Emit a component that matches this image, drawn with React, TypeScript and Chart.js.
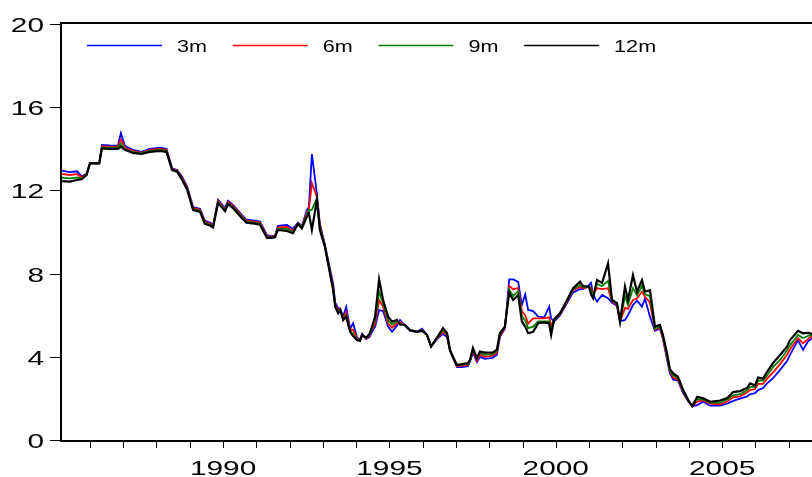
import React, { useEffect, useRef } from "react";
import { Chart, registerables } from "chart.js";

Chart.register(...registerables);

const DATES = [
  1985.13, 1985.40, 1985.61, 1985.75, 1985.90, 1986.00, 1986.28, 1986.36, 1986.60, 1986.84,
  1986.93, 1987.05, 1987.29, 1987.55, 1987.80, 1988.10, 1988.30, 1988.47, 1988.62, 1988.77,
  1988.92, 1989.10, 1989.31, 1989.45, 1989.62, 1989.70, 1989.85, 1990.06, 1990.15, 1990.30,
  1990.55, 1990.70, 1990.95, 1991.11, 1991.32, 1991.45, 1991.56, 1991.65, 1991.92, 1992.10,
  1992.25, 1992.37, 1992.52, 1992.58, 1992.67, 1992.82, 1992.91, 1993.06, 1993.31, 1993.37,
  1993.46, 1993.52, 1993.61, 1993.70, 1993.82, 1993.91, 1994.03, 1994.12, 1994.18, 1994.30,
  1994.40, 1994.48, 1994.57, 1994.69, 1994.81, 1994.96, 1995.08, 1995.23, 1995.32, 1995.47,
  1995.62, 1995.83, 1995.98, 1996.13, 1996.25, 1996.43, 1996.61, 1996.73, 1996.82, 1996.91,
  1997.03, 1997.18, 1997.36, 1997.42, 1997.51, 1997.63, 1997.72, 1997.87, 1998.10, 1998.23,
  1998.32, 1998.47, 1998.60, 1998.72, 1998.87, 1998.98, 1999.08, 1999.17, 1999.32, 1999.47,
  1999.65, 1999.80, 1999.86, 1999.95, 2000.13, 2000.34, 2000.52, 2000.73, 2000.82, 2001.00,
  2001.06, 2001.12, 2001.24, 2001.39, 2001.57, 2001.69, 2001.84, 2001.93, 2002.08, 2002.17,
  2002.32, 2002.44, 2002.59, 2002.68, 2002.83, 2002.98, 2003.13, 2003.22, 2003.34, 2003.43,
  2003.53, 2003.67, 2003.83, 2003.98, 2004.10, 2004.25, 2004.43, 2004.64, 2004.94, 2005.15,
  2005.33, 2005.54, 2005.75, 2005.84, 2005.99, 2006.08, 2006.23, 2006.35, 2006.53, 2006.74,
  2006.95, 2007.04, 2007.28, 2007.43, 2007.58, 2007.70,
];

const R3M = [
  12.95, 12.88, 12.92, 12.68, 12.8, 13.32, 13.32, 14.18, 14.16, 14.15,
  14.75, 14.15, 13.95, 13.85, 14.0, 14.05, 14.0, 13.06, 12.98, 12.66,
  12.2, 11.2, 11.12, 10.55, 10.45, 10.3, 11.55, 11.15, 11.5, 11.3,
  10.85, 10.6, 10.55, 10.5, 9.85, 9.8, 9.82, 10.3, 10.34, 10.15,
  10.45, 10.3, 11.06, 11.2, 13.75, 11.83, 10.4, 9.4, 7.5, 6.6,
  6.35, 6.3, 5.95, 6.4, 5.35, 5.62, 4.9, 4.85, 5.1, 4.85,
  4.95, 5.2, 5.45, 6.25, 6.2, 5.45, 5.2, 5.5, 5.77, 5.5,
  5.25, 5.2, 5.35, 5.05, 4.5, 4.85, 5.1, 4.95, 4.3, 3.95,
  3.5, 3.5, 3.55, 3.75, 4.2, 3.75, 4.0, 3.9, 3.95, 4.1,
  4.95, 5.35, 7.72, 7.72, 7.6, 6.5, 7.0, 6.25, 6.2, 5.93,
  5.9, 6.41, 5.85, 5.7, 6.0, 6.6, 7.1, 7.25, 7.25, 7.45,
  7.55, 7.0, 6.65, 6.97, 6.82, 6.6, 6.45, 5.7, 5.77, 6.0,
  6.49, 6.7, 6.41, 6.8, 5.93, 5.25, 5.35, 4.85, 3.9, 3.2,
  2.9, 2.85, 2.24, 1.85, 1.62, 1.68, 1.84, 1.65, 1.65, 1.75,
  1.88, 1.99, 2.1, 2.2, 2.25, 2.4, 2.5, 2.72, 2.97, 3.37,
  3.8, 4.09, 4.8, 4.33, 4.73, 4.9,
];

const R6M = [
  12.79, 12.74, 12.78, 12.64, 12.78, 13.3, 13.3, 14.12, 14.1, 14.1,
  14.45, 14.05, 13.9, 13.8, 13.95, 14.0, 13.95, 13.03, 12.95, 12.6,
  12.15, 11.15, 11.07, 10.5, 10.4, 10.28, 11.5, 11.1, 11.45, 11.25,
  10.8, 10.55, 10.5, 10.45, 9.8, 9.78, 9.8, 10.22, 10.25, 10.05,
  10.42, 10.25, 10.95, 11.1, 12.35, 11.7, 10.3, 9.35, 7.35, 6.5,
  6.25, 6.3, 5.88, 6.15, 5.3, 5.3, 4.85, 4.82, 5.05, 4.88,
  5.0, 5.3, 5.6, 6.73, 6.4, 5.6, 5.4, 5.6, 5.68, 5.5,
  5.27, 5.2, 5.3, 5.05, 4.5, 4.88, 5.2, 5.05, 4.3, 3.97,
  3.55, 3.58, 3.6, 3.8, 4.3, 3.82, 4.1, 4.0, 4.05, 4.2,
  5.0, 5.4, 7.4, 7.25, 7.3, 6.2, 6.0, 5.6, 5.85, 5.85,
  5.85, 5.9, 5.5, 5.75, 6.05, 6.65, 7.2, 7.35, 7.3, 7.35,
  7.3, 7.05, 7.3, 7.25, 7.3, 6.65, 6.5, 5.7, 6.35, 6.3,
  6.73, 6.8, 7.13, 6.9, 6.6, 5.3, 5.4, 4.9, 4.0, 3.3,
  3.0, 2.9, 2.3, 1.88, 1.62, 1.85, 1.9, 1.75, 1.72, 1.85,
  2.05, 2.1, 2.3, 2.4, 2.45, 2.7, 2.7, 2.95, 3.25, 3.65,
  4.1, 4.35, 4.9, 4.65, 4.85, 5.0,
];

const R9M = [
  12.61, 12.58, 12.62, 12.58, 12.76, 13.3, 13.3, 14.07, 14.05, 14.05,
  14.26, 13.98, 13.85, 13.78, 13.9, 13.95, 13.9, 13.0, 12.92, 12.55,
  12.1, 11.1, 11.02, 10.45, 10.35, 10.25, 11.45, 11.05, 11.4, 11.2,
  10.75, 10.5, 10.45, 10.4, 9.76, 9.75, 9.77, 10.15, 10.15, 10.0,
  10.4, 10.22, 10.85, 11.06, 11.06, 11.62, 10.2, 9.32, 7.25, 6.45,
  6.15, 6.27, 5.82, 6.0, 5.25, 5.1, 4.82, 4.79, 5.05, 4.9,
  5.05, 5.38, 5.77, 7.13, 6.55, 5.75, 5.55, 5.7, 5.6, 5.52,
  5.28, 5.2, 5.28, 5.05, 4.5, 4.9, 5.3, 5.1, 4.32, 3.99,
  3.58, 3.62, 3.65, 3.83, 4.38, 3.9, 4.2, 4.1, 4.12, 4.28,
  5.08, 5.42, 7.24, 6.92, 7.16, 5.95, 5.75, 5.38, 5.45, 5.7,
  5.7, 5.7, 5.25, 5.77, 6.08, 6.7, 7.25, 7.45, 7.35, 7.37,
  7.2, 6.95, 7.5, 7.4, 7.65, 6.7, 6.55, 5.7, 6.9, 6.5,
  7.3, 6.95, 7.4, 7.0, 6.92, 5.35, 5.45, 5.0, 4.1, 3.35,
  3.1, 2.97, 2.35, 1.9, 1.63, 1.95, 1.95, 1.8, 1.8, 1.95,
  2.15, 2.2, 2.4, 2.55, 2.55, 2.85, 2.85, 3.1, 3.5, 3.85,
  4.3, 4.55, 5.05, 4.9, 5.0, 5.05,
];

const R12M = [
  12.45, 12.42, 12.5, 12.54, 12.75, 13.3, 13.3, 14.02, 14.0, 14.0,
  14.1, 13.95, 13.8, 13.75, 13.85, 13.9, 13.85, 12.98, 12.9, 12.5,
  12.05, 11.05, 10.97, 10.4, 10.3, 10.22, 11.4, 11.0, 11.35, 11.15,
  10.7, 10.45, 10.4, 10.35, 9.72, 9.72, 9.75, 10.1, 10.05, 9.94,
  10.38, 10.18, 10.74, 10.9, 10.1, 11.54, 10.1, 9.3, 7.2, 6.41,
  6.1, 6.25, 5.77, 5.93, 5.2, 5.0, 4.8, 4.77, 5.05, 4.92,
  5.1, 5.45, 5.93, 7.72, 6.73, 5.93, 5.69, 5.77, 5.55, 5.53,
  5.29, 5.2, 5.25, 5.05, 4.49, 4.92, 5.38, 5.15, 4.33, 4.0,
  3.6, 3.65, 3.7, 3.85, 4.42, 3.94, 4.25, 4.2, 4.2, 4.35,
  5.13, 5.45, 7.08, 6.73, 6.97, 5.7, 5.45, 5.13, 5.2, 5.62,
  5.65, 5.6, 5.05, 5.8, 6.1, 6.73, 7.3, 7.61, 7.4, 7.37,
  7.0, 6.82, 7.69, 7.55, 8.49, 6.73, 6.58, 5.69, 7.37, 6.73,
  7.93, 7.13, 7.69, 7.13, 7.2, 5.45, 5.53, 5.05, 4.2, 3.4,
  3.2, 3.04, 2.4, 1.92, 1.63, 2.08, 2.0, 1.84, 1.9, 2.02,
  2.3, 2.35, 2.5, 2.72, 2.62, 3.0, 2.95, 3.28, 3.7, 4.09,
  4.49, 4.8, 5.25, 5.13, 5.15, 5.1,
];

const SERIES_LABELS = ["3m", "6m", "9m", "12m"];
const SERIES_COLORS = ["#0000ff", "#ff0000", "#008000", "#000000"];
const Y_TICKS = [0, 4, 8, 12, 16, 20];
const X_LABELS = ["1990", "1995", "2000", "2005"];
const X_MINOR = [
  1986, 1987, 1988, 1989, 1990, 1991, 1992, 1993, 1994, 1995, 1996,
  1997, 1998, 1999, 2000, 2001, 2002, 2003, 2004, 2005, 2006, 2007,
];

const FONT = '"Liberation Sans", Arial, sans-serif';

function stretchText(
  ctx: CanvasRenderingContext2D,
  text: string,
  x: number,
  y: number,
  align: CanvasTextAlign,
  sx: number
) {
  ctx.save();
  ctx.translate(x, y);
  ctx.scale(sx, 1);
  ctx.textAlign = align;
  ctx.textBaseline = "alphabetic";
  ctx.fillText(text, 0, 0);
  ctx.restore();
}

const frameplugin = {
  id: "evFrame",
  afterDraw(chart: any) {
    const ctx: CanvasRenderingContext2D = chart.ctx;
    const area = chart.chartArea;
    const xs = chart.scales.x;
    const ys = chart.scales.y;
    ctx.save();
    ctx.strokeStyle = "#000";
    ctx.fillStyle = "#000";

    // frame: top, left, bottom
    ctx.lineWidth = 2;
    ctx.beginPath();
    ctx.moveTo(area.left, area.top - 1);
    ctx.lineTo(chart.width, area.top - 1);
    ctx.moveTo(area.left, area.top - 2);
    ctx.lineTo(area.left, area.bottom + 2);
    ctx.moveTo(area.left - 1, area.bottom + 1);
    ctx.lineTo(chart.width, area.bottom + 1);
    ctx.stroke();

    // y ticks + labels
    ctx.lineWidth = 1;
    ctx.font = `21px ${FONT}`;
    Y_TICKS.forEach((v) => {
      const y = Math.round(ys.getPixelForValue(v)) + 0.5;
      ctx.beginPath();
      ctx.moveTo(area.left - 11, y);
      ctx.lineTo(area.left, y);
      ctx.stroke();
      stretchText(ctx, String(v), area.left - 17, y + 7.5, "right", 1.42);
    });

    // x ticks
    X_MINOR.forEach((yr) => {
      const x = Math.round(xs.getPixelForValue(yr)) + 0.5;
      ctx.beginPath();
      ctx.moveTo(x, area.bottom + 1);
      ctx.lineTo(x, area.bottom + 8);
      ctx.stroke();
    });
    X_LABELS.forEach((lab) => {
      const x = xs.getPixelForValue(Number(lab));
      stretchText(ctx, lab, x, area.bottom + 34.5, "center", 1.42);
    });

    // legend
    ctx.font = `16px ${FONT}`;
    const legendY = 45.5;
    SERIES_LABELS.forEach((lab, i) => {
      const x0 = 87 + i * 145.7;
      ctx.strokeStyle = SERIES_COLORS[i];
      ctx.lineWidth = 1.3;
      ctx.beginPath();
      ctx.moveTo(x0, legendY);
      ctx.lineTo(x0 + 75, legendY);
      ctx.stroke();
      ctx.fillStyle = "#000";
      stretchText(ctx, lab, x0 + 90, legendY + 6, "left", 1.35);
    });
    ctx.restore();
  },
};

export default function App() {
  const ref = useRef<HTMLCanvasElement | null>(null);

  useEffect(() => {
    if (!ref.current) return;
    const seriesValues = [R3M, R6M, R9M, R12M];
    const datasets = seriesValues.map((vals, i) => ({
      label: SERIES_LABELS[i],
      data: DATES.map((d, k) => ({ x: d, y: vals[k] })),
      borderColor: SERIES_COLORS[i],
      backgroundColor: SERIES_COLORS[i],
      borderWidth: i === 3 ? 2.2 : 1.8,
      pointRadius: 0,
      tension: 0,
      fill: false,
      order: 4 - i,
    }));
    const chart = new Chart(ref.current, {
      type: "line",
      data: { datasets },
      options: {
        animation: false,
        responsive: false,
        maintainAspectRatio: false,
        layout: { padding: { left: 61, top: 24, right: 0, bottom: 37 } },
        plugins: {
          legend: { display: false },
          tooltip: { enabled: false },
        },
        scales: {
          x: { type: "linear", min: 1985.13, max: 2007.7, display: false },
          y: { type: "linear", min: 0, max: 20, display: false },
        },
      },
      plugins: [frameplugin],
    });
    return () => chart.destroy();
  }, []);

  return (
    <div
      style={{
        position: "fixed",
        left: 0,
        top: 0,
        width: 812,
        height: 477,
        background: "#fff",
      }}
    >
      <canvas ref={ref} width={812} height={477} style={{ display: "block" }} />
    </div>
  );
}
